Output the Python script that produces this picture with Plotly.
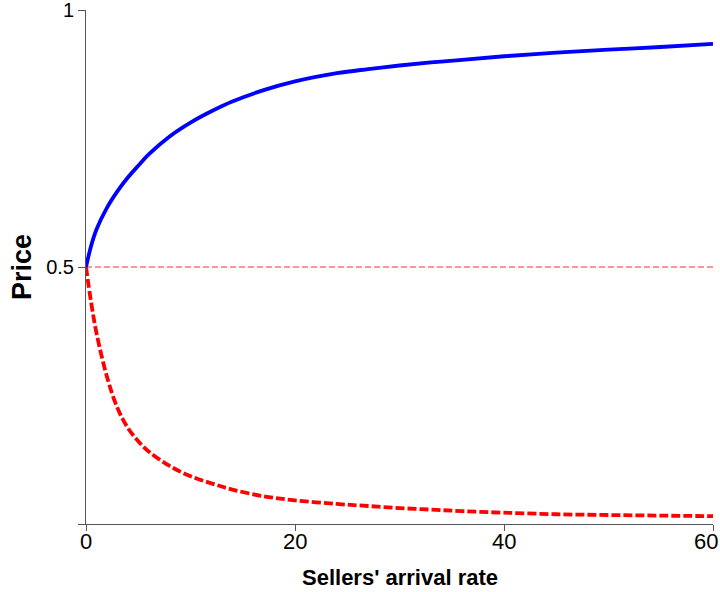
import plotly.graph_objects as go

# Sellers' arrival rate (x) and the two price paths
arrival_rate = [0, 0.5, 1, 2, 3, 4, 5, 6, 8, 10, 12, 14, 17, 20, 24, 27, 30,
                33, 36, 40, 45, 50, 55, 60]
price_upper = [0.5, 0.542, 0.573, 0.615, 0.647, 0.674, 0.697, 0.719, 0.754,
               0.781, 0.803, 0.822, 0.844, 0.861, 0.877, 0.885, 0.892, 0.898,
               0.903, 0.910, 0.917, 0.923, 0.928, 0.934]
price_lower = [0.5, 0.43, 0.372, 0.287, 0.226, 0.187, 0.161, 0.141, 0.113,
               0.093, 0.079, 0.067, 0.054, 0.046, 0.039, 0.035, 0.031, 0.028,
               0.025, 0.022, 0.019, 0.0175, 0.0163, 0.0152]
reference_price = 0.5

x_ticks = [0, 20, 40, 60]
x_tick_text = ["0", "20", "40", "60"]
y_ticks = [0, 0.5, 1]
y_tick_text = ["", "0.5", "1"]

fig = go.Figure()

fig.add_trace(go.Scatter(
    x=[arrival_rate[0], arrival_rate[-1]],
    y=[reference_price, reference_price],
    mode="lines",
    line=dict(color="#ff2a2a", width=1, dash="6px,3px"),
    hoverinfo="skip",
))
fig.add_trace(go.Scatter(
    x=arrival_rate, y=price_upper, mode="lines",
    line=dict(color="#0000ff", width=3.8, shape="spline"),
))
fig.add_trace(go.Scatter(
    x=arrival_rate, y=price_lower, mode="lines",
    line=dict(color="#ff0000", width=3.8, shape="spline", dash="9px,3px"),
))

family = "Liberation Sans, Arial, sans-serif"
x_label_font = dict(family=family, size=22, color="black")
y_label_font = dict(family=family, size=20, color="black")

# x tick labels are drawn as annotations under each tick; the last one is
# right-aligned so it stays inside the page
annotations = []
for i, (tv, tt) in enumerate(zip(x_ticks, x_tick_text)):
    last = i == len(x_ticks) - 1
    annotations.append(dict(
        x=tv, y=0, xref="x", yref="paper", text=tt, showarrow=False,
        xanchor="right" if last else "center", yanchor="top",
        xshift=7 if last else 0, yshift=-3, font=x_label_font,
    ))
# axis titles
annotations.append(dict(
    x=0.5, y=0, xref="paper", yref="paper", text="<b>Sellers' arrival rate</b>",
    showarrow=False, xanchor="center", yanchor="middle", yshift=-53,
    font=dict(family=family, size=22, color="black"),
))
annotations.append(dict(
    x=0, y=0.5, xref="paper", yref="paper", text="<b>Price</b>",
    showarrow=False, textangle=-90, xanchor="center", yanchor="middle",
    xshift=-64, font=dict(family=family, size=27, color="black"),
))

fig.update_layout(
    width=720, height=592,
    margin=dict(l=86, r=7, t=10, b=68, autoexpand=False),
    paper_bgcolor="white", plot_bgcolor="white",
    showlegend=False,
    annotations=annotations,
    xaxis=dict(
        range=[0, 60], tickvals=x_ticks, showticklabels=False, ticks="outside",
        ticklen=6, tickcolor="#555", showline=True, linecolor="#555", linewidth=1,
        showgrid=False, zeroline=False, automargin=False,
    ),
    yaxis=dict(
        range=[0, 1], tickvals=y_ticks, ticktext=y_tick_text, ticks="outside",
        ticklen=7, tickcolor="#555", showline=True, linecolor="#555", linewidth=1,
        showgrid=False, zeroline=False, tickfont=y_label_font,
        ticklabeloverflow="allow", automargin=False,
    ),
)

fig.write_html("out.html")
